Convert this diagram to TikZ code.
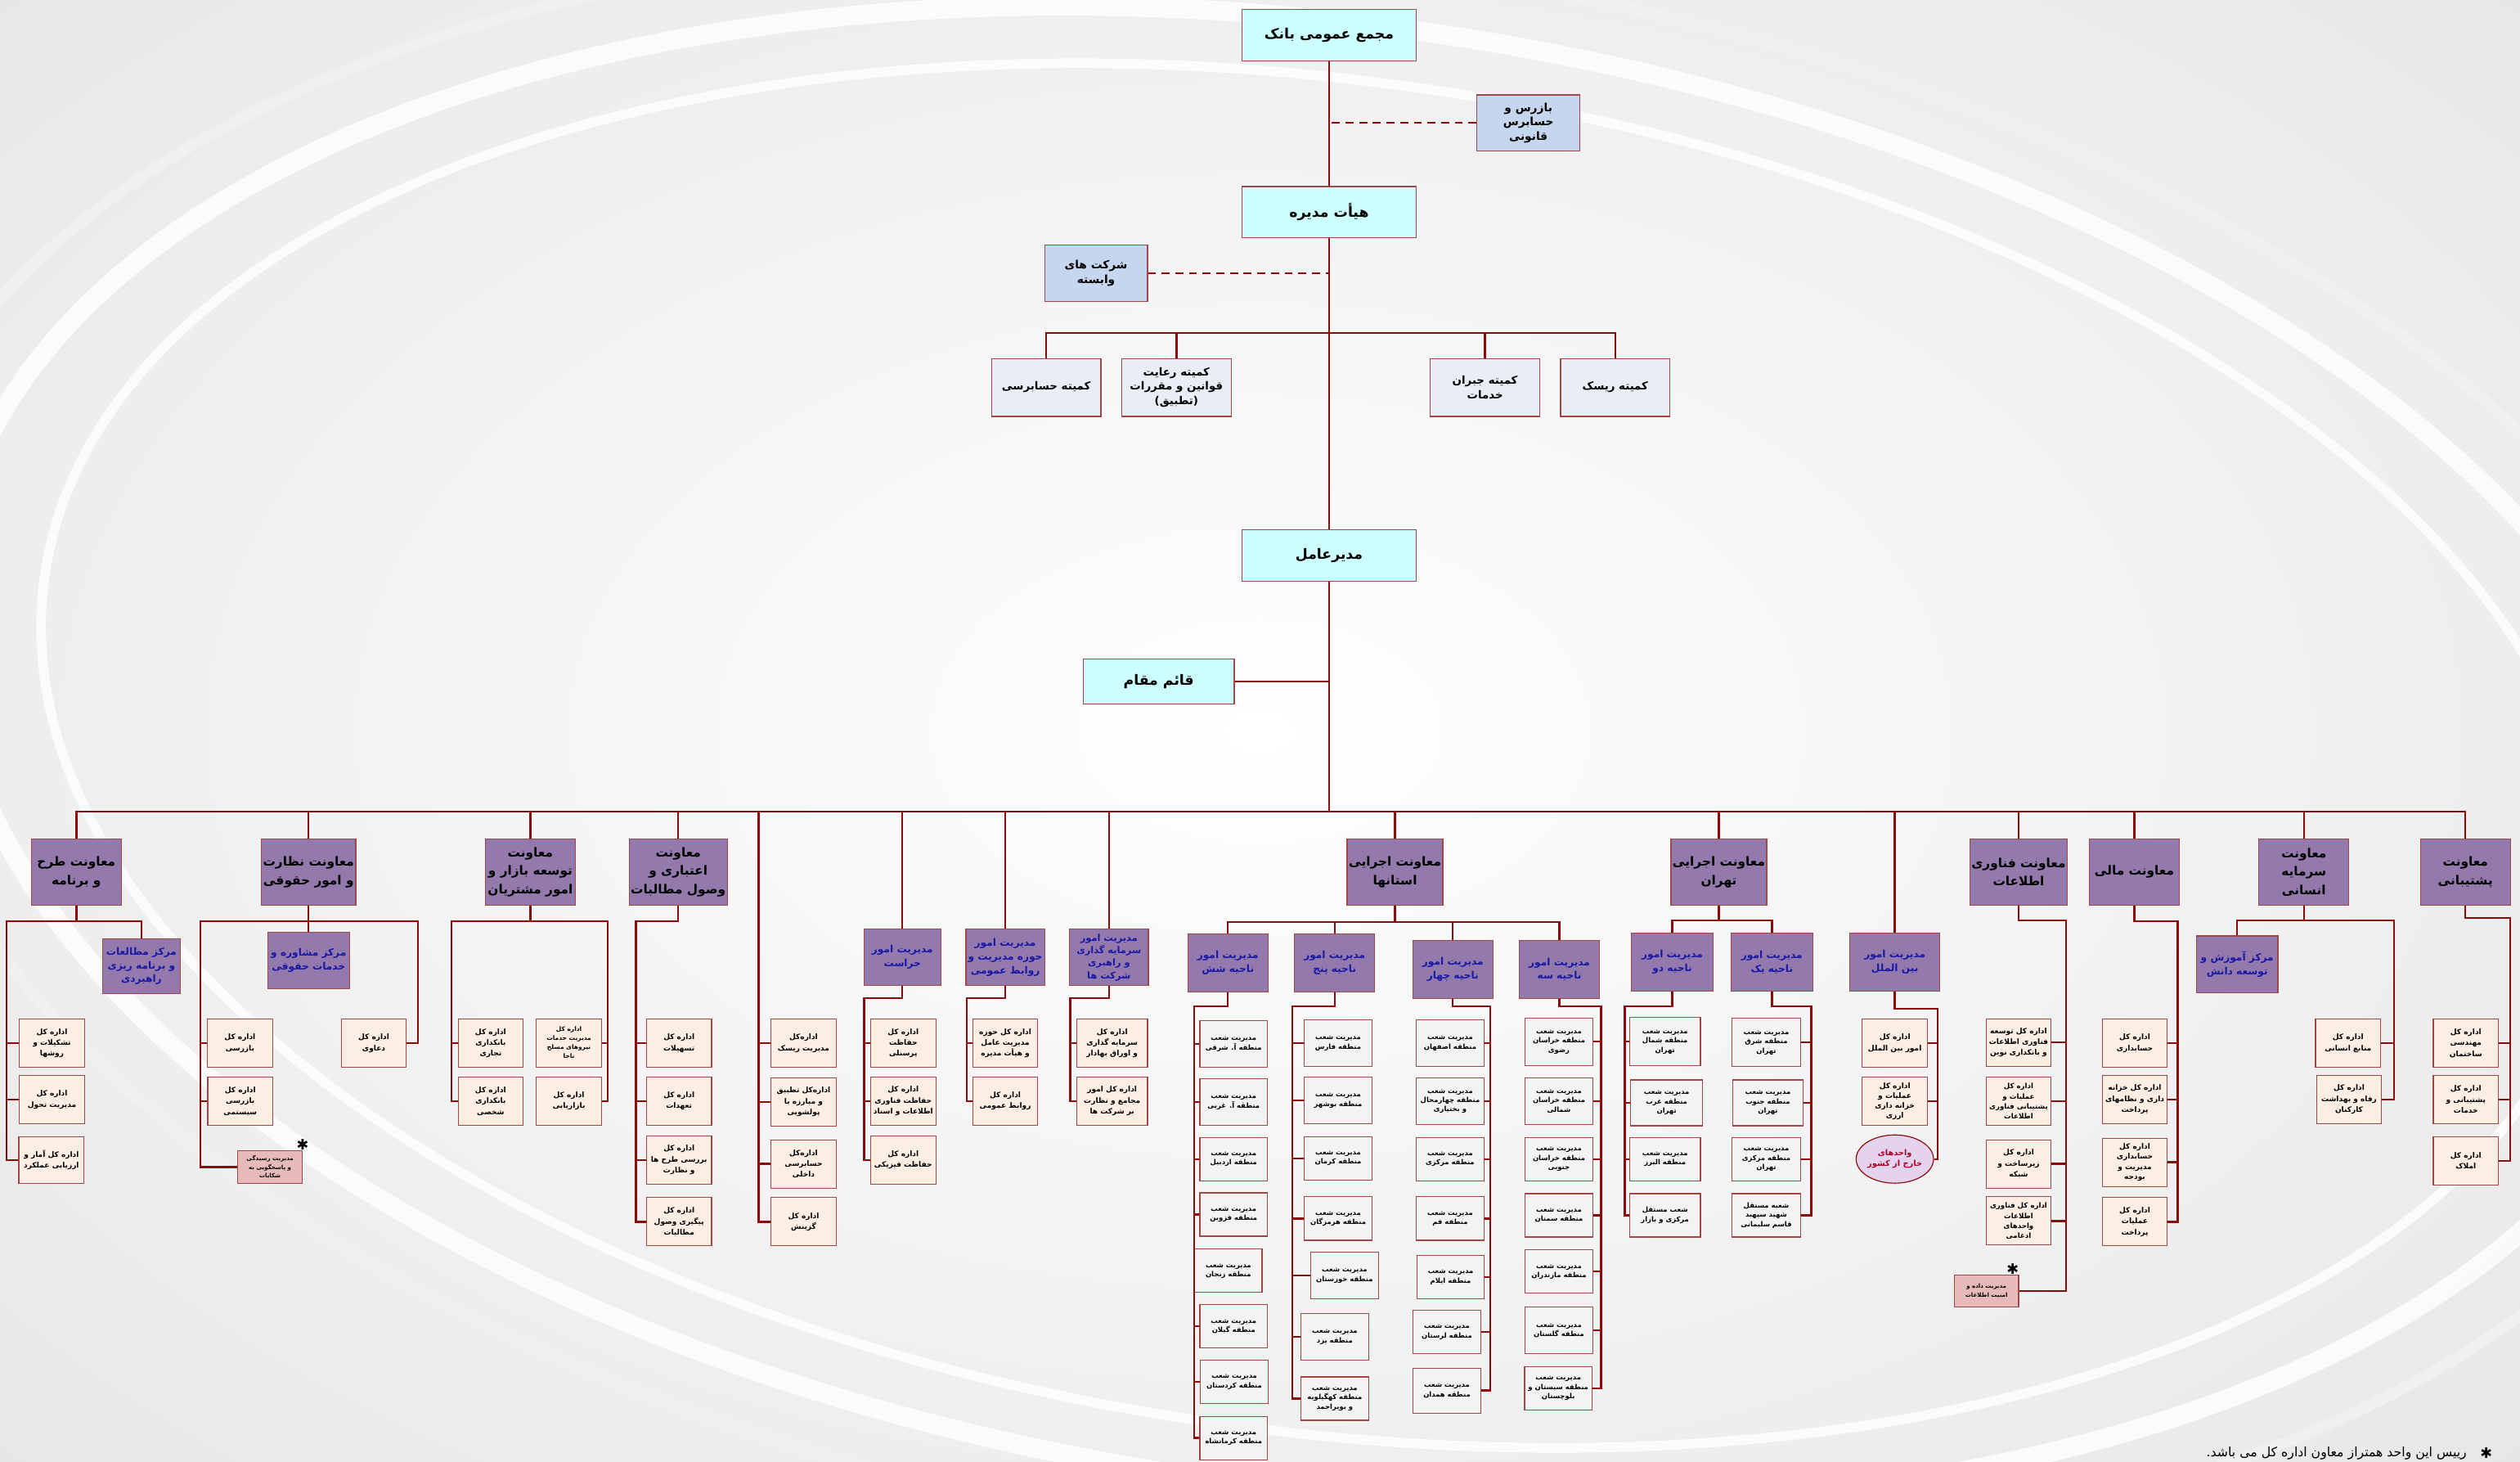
\documentclass[tikz,border=0pt]{standalone}
\usepackage{fontspec}
\newfontfamily\arabicfont[Script=Arabic]{DejaVu Sans}
\newfontfamily\symfont{DejaVu Sans}
\TeXXeTstate=1
\usetikzlibrary{positioning, shapes.geometric}
\definecolor{wirec}{RGB}{139,10,10}
\definecolor{edgec}{RGB}{160,70,70}
\definecolor{cyanc}{RGB}{204,255,255}
\definecolor{bluec}{RGB}{198,214,238}
\definecolor{commc}{RGB}{233,237,245}
\definecolor{purplec}{RGB}{148,122,172}
\definecolor{navyc}{RGB}{25,25,165}
\definecolor{creamc}{RGB}{253,238,228}
\definecolor{greyc}{RGB}{243,243,243}
\definecolor{pinkc}{RGB}{230,186,185}
\definecolor{lilacc}{RGB}{229,210,238}
\definecolor{redtxt}{RGB}{175,0,35}
\newcommand{\fa}[1]{\beginR#1\endR}

\begin{document}
\begin{tikzpicture}[x=1pt,y=-1pt,
  wire/.style={draw=wirec,line width=1.2pt},
  link/.style={wire,dash pattern=on 5pt off 3.5pt},
  boxbase/.style={draw=edgec,line width=.6pt,align=center,inner sep=1pt},
  topbox/.style={boxbase,fill=cyanc,minimum width=108pt,minimum height=32pt,font=\arabicfont\bfseries\fontsize{8.8}{11}\selectfont},
  bluebox/.style={boxbase,fill=bluec,minimum width=64pt,minimum height=35pt,font=\arabicfont\bfseries\fontsize{7}{9}\selectfont},
  commbox/.style={boxbase,fill=commc,minimum width=68pt,minimum height=36pt,font=\arabicfont\bfseries\fontsize{6.8}{8.8}\selectfont},
  vicebox/.style={boxbase,fill=purplec,minimum width=56pt,minimum height=41pt,font=\arabicfont\bfseries\fontsize{7.8}{11.5}\selectfont},
  unitbox/.style={boxbase,fill=purplec,text=navyc,minimum width=49pt,minimum height=35pt,font=\arabicfont\bfseries\fontsize{6.2}{8.6}\selectfont},
  genbox/.style={boxbase,fill=creamc,minimum width=40.5pt,minimum height=30pt,font=\arabicfont\bfseries\fontsize{4.6}{6.8}\selectfont},
  branchbox/.style={boxbase,fill=greyc,minimum width=42pt,minimum height=27pt,font=\arabicfont\bfseries\fontsize{4.3}{5.8}\selectfont},
  notebox/.style={boxbase,fill=pinkc,minimum width=40pt,minimum height=20pt,font=\arabicfont\bfseries\fontsize{3.6}{5.2}\selectfont},
  abroadbox/.style={ellipse,draw=wirec,line width=.6pt,fill=lilacc,text=redtxt,align=center,inner sep=0pt,minimum width=40pt,minimum height=30pt,font=\arabicfont\bfseries\fontsize{5}{6.6}\selectfont},
  starmark/.style={inner sep=0pt,font=\symfont\fontsize{9}{9}\selectfont}]

  % background
  \useasboundingbox (0,0) rectangle (1568,909);
  \shade[inner color=white,outer color=black!12] (-600,-400) rectangle (2168,1309);
  \begin{scope}
    \clip (0,0) rectangle (1568,909);
    \draw[white,line width=12pt,opacity=.8,rotate around={-8:(820,470)}] (820,470) ellipse [x radius=860, y radius=455];
    \draw[black!6,line width=7pt,rotate around={-8:(820,470)}] (820,470) ellipse [x radius=905, y radius=492];
    \draw[white,line width=6pt,opacity=.8,rotate around={-8:(820,470)}] (820,470) ellipse [x radius=800, y radius=420];
  \end{scope}

  % board level
  \node[topbox] (gm) at (827,22) {\fa{مجمع عمومی بانک}};
  \node[bluebox] (aud) at (951,76.5) {\fa{بازرس و}\\\fa{حسابرس}\\\fa{قانونی}};
  \node[topbox] (board) at (827,132) {\fa{هیأت مدیره}};
  \node[bluebox] (subs) at (682,170) {\fa{شرکت های}\\\fa{وابسته}};
  \node[commbox] (c1) at (651,241) {\fa{کمیته حسابرسی}};
  \node[commbox] (c2) at (732,241) {\fa{کمیته رعایت}\\\fa{قوانین و مقررات}\\\fa{(تطبیق)}};
  \node[commbox] (c3) at (924,241) {\fa{کمیته جبران}\\\fa{خدمات}};
  \node[commbox] (c4) at (1005,241) {\fa{کمیته ریسک}};
  \node[topbox] (ceo) at (827,345.5) {\fa{مدیرعامل}};
  \node[topbox,minimum width=94pt,minimum height=28pt] (dep) at (721,424) {\fa{قائم مقام}};

  % vice presidents
  \node[vicebox] (v1) at (47.5,542.5) {\fa{معاونت طرح}\\\fa{و برنامه}};
  \node[vicebox] (v2) at (192,542.5) {\fa{معاونت نظارت}\\\fa{و امور حقوقی}};
  \node[vicebox] (v3) at (330,542.5) {\fa{معاونت}\\\fa{توسعه بازار و}\\\fa{امور مشتریان}};
  \node[vicebox] (v4) at (422,542.5) {\fa{معاونت}\\\fa{اعتباری و}\\\fa{وصول مطالبات}};
  \node[unitbox,minimum width=48pt] (u6) at (561.5,595.5) {\fa{مدیریت امور}\\\fa{حراست}};
  \node[unitbox] (u7) at (625.5,595.5) {\fa{مدیریت امور}\\\fa{حوزه مدیریت و}\\\fa{روابط عمومی}};
  \node[unitbox,font=\arabicfont\bfseries\fontsize{5.8}{7.8}\selectfont] (u8) at (690,595.5) {\fa{مدیریت امور}\\\fa{سرمایه گذاری}\\\fa{و راهبری}\\\fa{شرکت ها}};
  \node[vicebox] (v9) at (868,542.5) {\fa{معاونت اجرایی}\\\fa{استانها}};
  \node[vicebox] (v10) at (1069.5,542.5) {\fa{معاونت اجرایی}\\\fa{تهران}};
  \node[unitbox,minimum width=56pt,minimum height=36pt] (u11) at (1179,598.5) {\fa{مدیریت امور}\\\fa{بین الملل}};
  \node[vicebox] (v12) at (1256,542.5) {\fa{معاونت فناوری}\\\fa{اطلاعات}};
  \node[vicebox] (v13) at (1328,542.5) {\fa{معاونت مالی}};
  \node[vicebox] (v14) at (1433.5,542.5) {\fa{معاونت}\\\fa{سرمایه}\\\fa{انسانی}};
  \node[vicebox] (v15) at (1534,542.5) {\fa{معاونت}\\\fa{پشتیبانی}};

  % plan and program
  \node[unitbox,minimum width=48.6pt,minimum height=34pt] (m1) at (88,601) {\fa{مرکز مطالعات}\\\fa{و برنامه ریزی}\\\fa{راهبردی}};
  \node[genbox] (a1) at (32.3,649) {\fa{اداره کل}\\\fa{تشکیلات و}\\\fa{روشها}};
  \node[genbox] (a2) at (32.3,684) {\fa{اداره کل}\\\fa{مدیریت تحول}};
  \node[genbox,minimum height=29pt] (a3) at (32,721.5) {\fa{اداره کل آمار و}\\\fa{ارزیابی عملکرد}};

  % supervision and legal
  \node[unitbox,minimum width=51pt] (m2) at (192,597.5) {\fa{مرکز مشاوره و}\\\fa{خدمات حقوقی}};
  \node[genbox] (b1) at (149.3,649) {\fa{اداره کل}\\\fa{بازرسی}};
  \node[genbox] (b2) at (149.5,685) {\fa{اداره کل}\\\fa{بازرسی}\\\fa{سیستمی}};
  \node[notebox] (bn) at (168,726) {\fa{مدیریت رسیدگی}\\\fa{و پاسخگویی به}\\\fa{شکایات}};
  \node[starmark,above=0pt of bn.north east] (st1) {✱};
  \node[genbox] (b3) at (232.6,649) {\fa{اداره کل}\\\fa{دعاوی}};

  % market development
  \node[genbox] (d1) at (305.3,649) {\fa{اداره کل}\\\fa{بانکداری}\\\fa{تجاری}};
  \node[genbox] (d2) at (305.3,685) {\fa{اداره کل}\\\fa{بانکداری}\\\fa{شخصی}};
  \node[genbox,font=\arabicfont\bfseries\fontsize{3.8}{5.6}\selectfont] (d3) at (354,649) {\fa{اداره کل}\\\fa{مدیریت خدمات}\\\fa{نیروهای مسلح}\\\fa{ناجا}};
  \node[genbox] (d4) at (354,685) {\fa{اداره کل}\\\fa{بازاریابی}};

  % credit
  \node[genbox] (e1) at (422.5,649) {\fa{اداره کل}\\\fa{تسهیلات}};
  \node[genbox] (e2) at (422.5,685) {\fa{اداره کل}\\\fa{تعهدات}};
  \node[genbox] (e3) at (422.5,721.5) {\fa{اداره کل}\\\fa{بررسی طرح ها}\\\fa{و نظارت}};
  \node[genbox] (e4) at (422.5,760) {\fa{اداره کل}\\\fa{پیگیری وصول}\\\fa{مطالبات}};

  % directly under the CEO
  \node[genbox] (k1) at (500,649) {\fa{اداره‌کل}\\\fa{مدیریت ریسک}};
  \node[genbox] (k2) at (500,685.5) {\fa{اداره‌کل تطبیق}\\\fa{و مبارزه با}\\\fa{پولشویی}};
  \node[genbox] (k3) at (500,724) {\fa{اداره‌کل}\\\fa{حسابرسی}\\\fa{داخلی}};
  \node[genbox] (k4) at (500,760) {\fa{اداره کل}\\\fa{گزینش}};
  \node[genbox] (f1) at (562,649) {\fa{اداره کل}\\\fa{حفاظت}\\\fa{پرسنلی}};
  \node[genbox] (f2) at (562,685) {\fa{اداره کل}\\\fa{حفاظت فناوری}\\\fa{اطلاعات و اسناد}};
  \node[genbox] (f3) at (562,721.5) {\fa{اداره کل}\\\fa{حفاظت فیزیکی}};
  \node[genbox] (g1) at (625.5,649) {\fa{اداره کل حوزه}\\\fa{مدیریت عامل}\\\fa{و هیأت مدیره}};
  \node[genbox] (g2) at (625.5,685) {\fa{اداره کل}\\\fa{روابط عمومی}};
  \node[genbox,minimum width=44pt] (h1) at (692,649) {\fa{اداره کل}\\\fa{سرمایه گذاری}\\\fa{و اوراق بهادار}};
  \node[genbox,minimum width=44pt] (h2) at (692,685) {\fa{اداره کل امور}\\\fa{مجامع و نظارت}\\\fa{بر شرکت ها}};

  % provinces
  \node[unitbox,minimum width=50pt,minimum height=36pt] (w6) at (764,599) {\fa{مدیریت امور}\\\fa{ناحیه شش}};
  \node[unitbox,minimum width=50pt,minimum height=36pt] (w5) at (830.4,599) {\fa{مدیریت امور}\\\fa{ناحیه پنج}};
  \node[unitbox,minimum width=50pt,minimum height=36pt] (w4) at (904,603) {\fa{مدیریت امور}\\\fa{ناحیه چهار}};
  \node[unitbox,minimum width=50pt,minimum height=36pt] (w3) at (970.3,603) {\fa{مدیریت امور}\\\fa{ناحیه سه}};

  \node[branchbox,minimum height=29pt] (r61) at (767.6,649.5) {\fa{مدیریت شعب}\\\fa{منطقه آ. شرقی}};
  \node[branchbox,minimum height=29pt] (r62) at (767.6,685.5) {\fa{مدیریت شعب}\\\fa{منطقه آ. غربی}};
  \node[branchbox] (r63) at (767.6,721) {\fa{مدیریت شعب}\\\fa{منطقه اردبیل}};
  \node[branchbox] (r64) at (767.6,755.5) {\fa{مدیریت شعب}\\\fa{منطقه قزوین}};
  \node[branchbox] (r65) at (764.3,790.5) {\fa{مدیریت شعب}\\\fa{منطقه زنجان}};
  \node[branchbox] (r66) at (767.6,825) {\fa{مدیریت شعب}\\\fa{منطقه گیلان}};
  \node[branchbox] (r67) at (768,859.5) {\fa{مدیریت شعب}\\\fa{منطقه کردستان}};
  \node[branchbox] (r68) at (767.6,894.5) {\fa{مدیریت شعب}\\\fa{منطقه کرمانشاه}};

  \node[branchbox,minimum height=29pt] (r51) at (832.6,649) {\fa{مدیریت شعب}\\\fa{منطقه فارس}};
  \node[branchbox,minimum height=29pt] (r52) at (832.6,684.5) {\fa{مدیریت شعب}\\\fa{منطقه بوشهر}};
  \node[branchbox] (r53) at (832.6,720.5) {\fa{مدیریت شعب}\\\fa{منطقه کرمان}};
  \node[branchbox] (r54) at (832.6,758) {\fa{مدیریت شعب}\\\fa{منطقه هرمزگان}};
  \node[branchbox,minimum height=29pt] (r55) at (836.6,793.5) {\fa{مدیریت شعب}\\\fa{منطقه خوزستان}};
  \node[branchbox,minimum height=29pt] (r56) at (830.5,831.6) {\fa{مدیریت شعب}\\\fa{منطقه یزد}};
  \node[branchbox] (r57) at (830.5,870) {\fa{مدیریت شعب}\\\fa{منطقه کهگیلویه}\\\fa{و بویراحمد}};

  \node[branchbox,minimum height=29pt] (r41) at (902.3,649) {\fa{مدیریت شعب}\\\fa{منطقه اصفهان}};
  \node[branchbox,minimum height=29pt] (r42) at (902.3,685) {\fa{مدیریت شعب}\\\fa{منطقه چهارمحال}\\\fa{و بختیاری}};
  \node[branchbox] (r43) at (902.3,721) {\fa{مدیریت شعب}\\\fa{منطقه مرکزی}};
  \node[branchbox] (r44) at (902.3,758) {\fa{مدیریت شعب}\\\fa{منطقه قم}};
  \node[branchbox] (r45) at (902.6,794.5) {\fa{مدیریت شعب}\\\fa{منطقه ایلام}};
  \node[branchbox] (r46) at (900.3,828.5) {\fa{مدیریت شعب}\\\fa{منطقه لرستان}};
  \node[branchbox,minimum height=28pt] (r47) at (900.3,865) {\fa{مدیریت شعب}\\\fa{منطقه همدان}};

  \node[branchbox,minimum height=29.5pt] (r31) at (970,648) {\fa{مدیریت شعب}\\\fa{منطقه خراسان}\\\fa{رضوی}};
  \node[branchbox,minimum height=29pt] (r32) at (970,685) {\fa{مدیریت شعب}\\\fa{منطقه خراسان}\\\fa{شمالی}};
  \node[branchbox] (r33) at (970,721) {\fa{مدیریت شعب}\\\fa{منطقه خراسان}\\\fa{جنوبی}};
  \node[branchbox] (r34) at (970,756) {\fa{مدیریت شعب}\\\fa{منطقه سمنان}};
  \node[branchbox] (r35) at (970,791) {\fa{مدیریت شعب}\\\fa{منطقه مازندران}};
  \node[branchbox,minimum height=29pt] (r36) at (970,827.5) {\fa{مدیریت شعب}\\\fa{منطقه گلستان}};
  \node[branchbox] (r37) at (969.6,863.6) {\fa{مدیریت شعب}\\\fa{منطقه سیستان و}\\\fa{بلوچستان}};

  % tehran
  \node[unitbox,minimum width=51pt,minimum height=36pt] (t2) at (1040.5,598.5) {\fa{مدیریت امور}\\\fa{ناحیه دو}};
  \node[unitbox,minimum width=51pt,minimum height=36pt] (t1) at (1102.5,598.5) {\fa{مدیریت امور}\\\fa{ناحیه یک}};
  \node[branchbox,minimum width=44pt,minimum height=30pt] (s21) at (1036,648) {\fa{مدیریت شعب}\\\fa{منطقه شمال}\\\fa{تهران}};
  \node[branchbox,minimum width=45pt,minimum height=28.5pt] (s22) at (1037,686) {\fa{مدیریت شعب}\\\fa{منطقه غرب}\\\fa{تهران}};
  \node[branchbox,minimum width=44pt] (s23) at (1036,721) {\fa{مدیریت شعب}\\\fa{منطقه البرز}};
  \node[branchbox,minimum width=44pt] (s24) at (1036,756) {\fa{شعب مستقل}\\\fa{مرکزی و بازار}};
  \node[branchbox,minimum width=43pt,minimum height=30pt] (s11) at (1099,648.5) {\fa{مدیریت شعب}\\\fa{منطقه شرق}\\\fa{تهران}};
  \node[branchbox,minimum width=44pt,minimum height=28.5pt] (s12) at (1100,686) {\fa{مدیریت شعب}\\\fa{منطقه جنوب}\\\fa{تهران}};
  \node[branchbox,minimum width=43pt] (s13) at (1099,721) {\fa{مدیریت شعب}\\\fa{منطقه مرکزی}\\\fa{تهران}};
  \node[branchbox,minimum width=43pt] (s14) at (1099,756) {\fa{شعبه مستقل}\\\fa{شهید سپهبد}\\\fa{قاسم سلیمانی}};

  % international
  \node[genbox] (n1) at (1179,649) {\fa{اداره کل}\\\fa{امور بین الملل}};
  \node[genbox,font=\arabicfont\bfseries\fontsize{4.6}{6.2}\selectfont] (n2) at (1179,685) {\fa{اداره کل}\\\fa{عملیات و}\\\fa{خزانه داری}\\\fa{ارزی}};
  \node[abroadbox] (n3) at (1179,721) {\fa{واحدهای}\\\fa{خارج از کشور}};

  % information technology
  \node[genbox,minimum height=29.5pt] (i1) at (1256,648.5) {\fa{اداره کل توسعه}\\\fa{فناوری اطلاعات}\\\fa{و بانکداری نوین}};
  \node[genbox,font=\arabicfont\bfseries\fontsize{4.4}{6.2}\selectfont] (i2) at (1256,685) {\fa{اداره کل}\\\fa{عملیات و}\\\fa{پشتیبانی فناوری}\\\fa{اطلاعات}};
  \node[genbox] (i3) at (1256,724) {\fa{اداره کل}\\\fa{زیرساخت و}\\\fa{شبکه}};
  \node[genbox,font=\arabicfont\bfseries\fontsize{4.4}{6.2}\selectfont] (i4) at (1256,759.5) {\fa{اداره کل فناوری}\\\fa{اطلاعات}\\\fa{واحدهای}\\\fa{ادغامی}};
  \node[notebox] (i5) at (1236,803) {\fa{مدیریت داده و}\\\fa{امنیت اطلاعات}};
  \node[starmark,above=0pt of i5.north east,xshift=-4pt] (st2) {✱};

  % finance
  \node[genbox] (j1) at (1328.3,649) {\fa{اداره کل}\\\fa{حسابداری}};
  \node[genbox] (j2) at (1328.3,684) {\fa{اداره کل خزانه}\\\fa{داری و نظامهای}\\\fa{پرداخت}};
  \node[genbox,font=\arabicfont\bfseries\fontsize{4.6}{6.2}\selectfont] (j3) at (1328.3,723) {\fa{اداره کل}\\\fa{حسابداری}\\\fa{مدیریت و}\\\fa{بودجه}};
  \node[genbox] (j4) at (1328.3,760) {\fa{اداره کل}\\\fa{عملیات}\\\fa{پرداخت}};

  % human capital
  \node[unitbox,minimum width=50.6pt,minimum height=35.5pt] (m14) at (1392,600) {\fa{مرکز آموزش و}\\\fa{توسعه دانش}};
  \node[genbox] (l1) at (1461,649) {\fa{اداره کل}\\\fa{منابع انسانی}};
  \node[genbox] (l2) at (1461.6,684) {\fa{اداره کل}\\\fa{رفاه و بهداشت}\\\fa{کارکنان}};

  % support
  \node[genbox] (o1) at (1534.3,649) {\fa{اداره کل}\\\fa{مهندسی}\\\fa{ساختمان}};
  \node[genbox] (o2) at (1534.3,684) {\fa{اداره کل}\\\fa{پشتیبانی و}\\\fa{خدمات}};
  \node[genbox] (o3) at (1534.3,722) {\fa{اداره کل}\\\fa{املاک}};

  % footnote
  \node[anchor=east,inner sep=0pt,font=\arabicfont\fontsize{8}{10}\selectfont] (fn) at (1535,904) {\fa{رییس این واحد همتراز معاون اداره کل می باشد.}};
  \node[starmark,right=8pt of fn.east] (fs) {✱};

  % connectors: top
  \coordinate (cb) at (827,207);
  \coordinate (mb) at (827,505);
  \draw[wire] (gm) -- (board);
  \draw[wire] (board) -- (ceo);
  \draw[link] (aud.west) -- (aud.west -| gm.south);
  \draw[link] (subs.east) -- (subs.east -| board.south);
  \draw[wire] (c1.north) |- (cb) -| (c4.north);
  \draw[wire] (c2.north) -- (c2.north |- cb) (c3.north) -- (c3.north |- cb);
  \draw[wire] (dep.east) -- (dep.east -| ceo.south);
  \draw[wire] (ceo.south) -- (mb);
  \draw[wire] (v1.north) |- (mb) -| (v15.north);
  \draw[wire] (v2.north) -- (v2.north |- mb) (v3.north) -- (v3.north |- mb)
    (v4.north) -- (v4.north |- mb) (u6.north) -- (u6.north |- mb)
    (u7.north) -- (u7.north |- mb) (u8.north) -- (u8.north |- mb)
    (v9.north) -- (v9.north |- mb) (v10.north) -- (v10.north |- mb)
    (u11.north) -- (u11.north |- mb) (v12.north) -- (v12.north |- mb)
    (v13.north) -- (v13.north |- mb) (v14.north) -- (v14.north |- mb);

  % connectors: left side
  \coordinate (a0) at (4,573);
  \draw[wire] (v1.south) |- (a0) |- (a3.west);
  \draw[wire] (v1.south |- a0) -| (m1.north);
  \draw[wire] (a1.west) -- (a1.west -| a0) (a2.west) -- (a2.west -| a0);

  \coordinate (b0) at (124.6,573);
  \coordinate (b9) at (260,573);
  \draw[wire] (v2.south) -- (m2.north);
  \draw[wire] (bn.west) -| (b0) -- (b9) |- (b3.east);
  \draw[wire] (b1.west) -- (b1.west -| b0) (b2.west) -- (b2.west -| b0);

  \coordinate (d0) at (281,573);
  \coordinate (d9) at (378,573);
  \draw[wire] (v3.south) -- (v3.south |- d0);
  \draw[wire] (d2.west) -| (d0) -- (d9) |- (d4.east);
  \draw[wire] (d1.west) -- (d1.west -| d0) (d3.east) -- (d3.east -| d9);

  \coordinate (e0) at (395.7,573);
  \draw[wire] (v4.south) |- (e0) |- (e4.west);
  \draw[wire] (e1.west) -- (e1.west -| e0) (e2.west) -- (e2.west -| e0) (e3.west) -- (e3.west -| e0);

  \coordinate (k0) at (472,505);
  \draw[wire] (k0) |- (k4.west);
  \draw[wire] (k1.west) -- (k1.west -| k0) (k2.west) -- (k2.west -| k0) (k3.west) -- (k3.west -| k0);

  \coordinate (f0) at (537.6,621);
  \draw[wire] (u6.south) |- (f0) |- (f3.west);
  \draw[wire] (f1.west) -- (f1.west -| f0) (f2.west) -- (f2.west -| f0);
  \coordinate (g0) at (601.6,621);
  \draw[wire] (u7.south) |- (g0) |- (g2.west);
  \draw[wire] (g1.west) -- (g1.west -| g0);
  \coordinate (h0) at (666,621);
  \draw[wire] (u8.south) |- (h0) |- (h2.west);
  \draw[wire] (h1.west) -- (h1.west -| h0);

  % connectors: provinces
  \coordinate (p0) at (764,573.6);
  \coordinate (p9) at (970.3,573.6);
  \draw[wire] (v9.south) -- (v9.south |- p0);
  \draw[wire] (w6.north) |- (p0) -- (p9) -- (w3.north);
  \draw[wire] (w5.north) -- (w5.north |- p0) (w4.north) -- (w4.north |- p0);

  \coordinate (q6) at (743,626);
  \draw[wire] (w6.south) |- (q6) |- (r68.west);
  \draw[wire] (r61.west) -- (r61.west -| q6) (r62.west) -- (r62.west -| q6)
    (r63.west) -- (r63.west -| q6) (r64.west) -- (r64.west -| q6)
    (r65.west) -- (r65.west -| q6) (r66.west) -- (r66.west -| q6)
    (r67.west) -- (r67.west -| q6);
  \coordinate (q5) at (804,626);
  \draw[wire] (w5.south) |- (q5) |- (r57.west);
  \draw[wire] (r51.west) -- (r51.west -| q5) (r52.west) -- (r52.west -| q5)
    (r53.west) -- (r53.west -| q5) (r54.west) -- (r54.west -| q5)
    (r55.west) -- (r55.west -| q5) (r56.west) -- (r56.west -| q5);
  \coordinate (q4) at (927.4,626);
  \draw[wire] (w4.south) |- (q4) |- (r47.east);
  \draw[wire] (r41.east) -- (r41.east -| q4) (r42.east) -- (r42.east -| q4)
    (r43.east) -- (r43.east -| q4) (r44.east) -- (r44.east -| q4)
    (r45.east) -- (r45.east -| q4) (r46.east) -- (r46.east -| q4);
  \coordinate (q3) at (996.2,626);
  \draw[wire] (w3.south) |- (q3) |- (r37.east);
  \draw[wire] (r31.east) -- (r31.east -| q3) (r32.east) -- (r32.east -| q3)
    (r33.east) -- (r33.east -| q3) (r34.east) -- (r34.east -| q3)
    (r35.east) -- (r35.east -| q3) (r36.east) -- (r36.east -| q3);

  % connectors: tehran
  \coordinate (x0) at (1040.5,572.6);
  \coordinate (x9) at (1102.5,572.6);
  \draw[wire] (v10.south) -- (v10.south |- x0);
  \draw[wire] (t2.north) |- (x0) -- (x9) -- (t1.north);
  \coordinate (y2) at (1011,626);
  \draw[wire] (t2.south) |- (y2) |- (s24.west);
  \draw[wire] (s21.west) -- (s21.west -| y2) (s22.west) -- (s22.west -| y2) (s23.west) -- (s23.west -| y2);
  \coordinate (y1) at (1127,626);
  \draw[wire] (t1.south) |- (y1) |- (s14.east);
  \draw[wire] (s11.east) -- (s11.east -| y1) (s12.east) -- (s12.east -| y1) (s13.east) -- (s13.east -| y1);

  % connectors: right side
  \coordinate (z0) at (1205.6,627.5);
  \draw[wire] (u11.south) |- (z0) |- (n3.east);
  \draw[wire] (n1.east) -- (n1.east -| z0) (n2.east) -- (n2.east -| z0);

  \coordinate (i0) at (1285.5,572.5);
  \draw[wire] (v12.south) |- (i0) |- (i5.east);
  \draw[wire] (i1.east) -- (i1.east -| i0) (i2.east) -- (i2.east -| i0)
    (i3.east) -- (i3.east -| i0) (i4.east) -- (i4.east -| i0);

  \coordinate (j0) at (1355,573);
  \draw[wire] (v13.south) |- (j0) |- (j4.east);
  \draw[wire] (j1.east) -- (j1.east -| j0) (j2.east) -- (j2.east -| j0) (j3.east) -- (j3.east -| j0);

  \coordinate (l0) at (1389,572.5);
  \coordinate (l9) at (1489.6,572.5);
  \draw[wire] (v14.south) -- (v14.south |- l0);
  \draw[wire] (m14.north) |- (l9) |- (l2.east);
  \draw[wire] (l1.east) -- (l1.east -| l9);

  \coordinate (o0) at (1562,571);
  \draw[wire] (v15.south) |- (o0) |- (o3.east);
  \draw[wire] (o1.east) -- (o1.east -| o0) (o2.east) -- (o2.east -| o0);
\end{tikzpicture}
\end{document}
